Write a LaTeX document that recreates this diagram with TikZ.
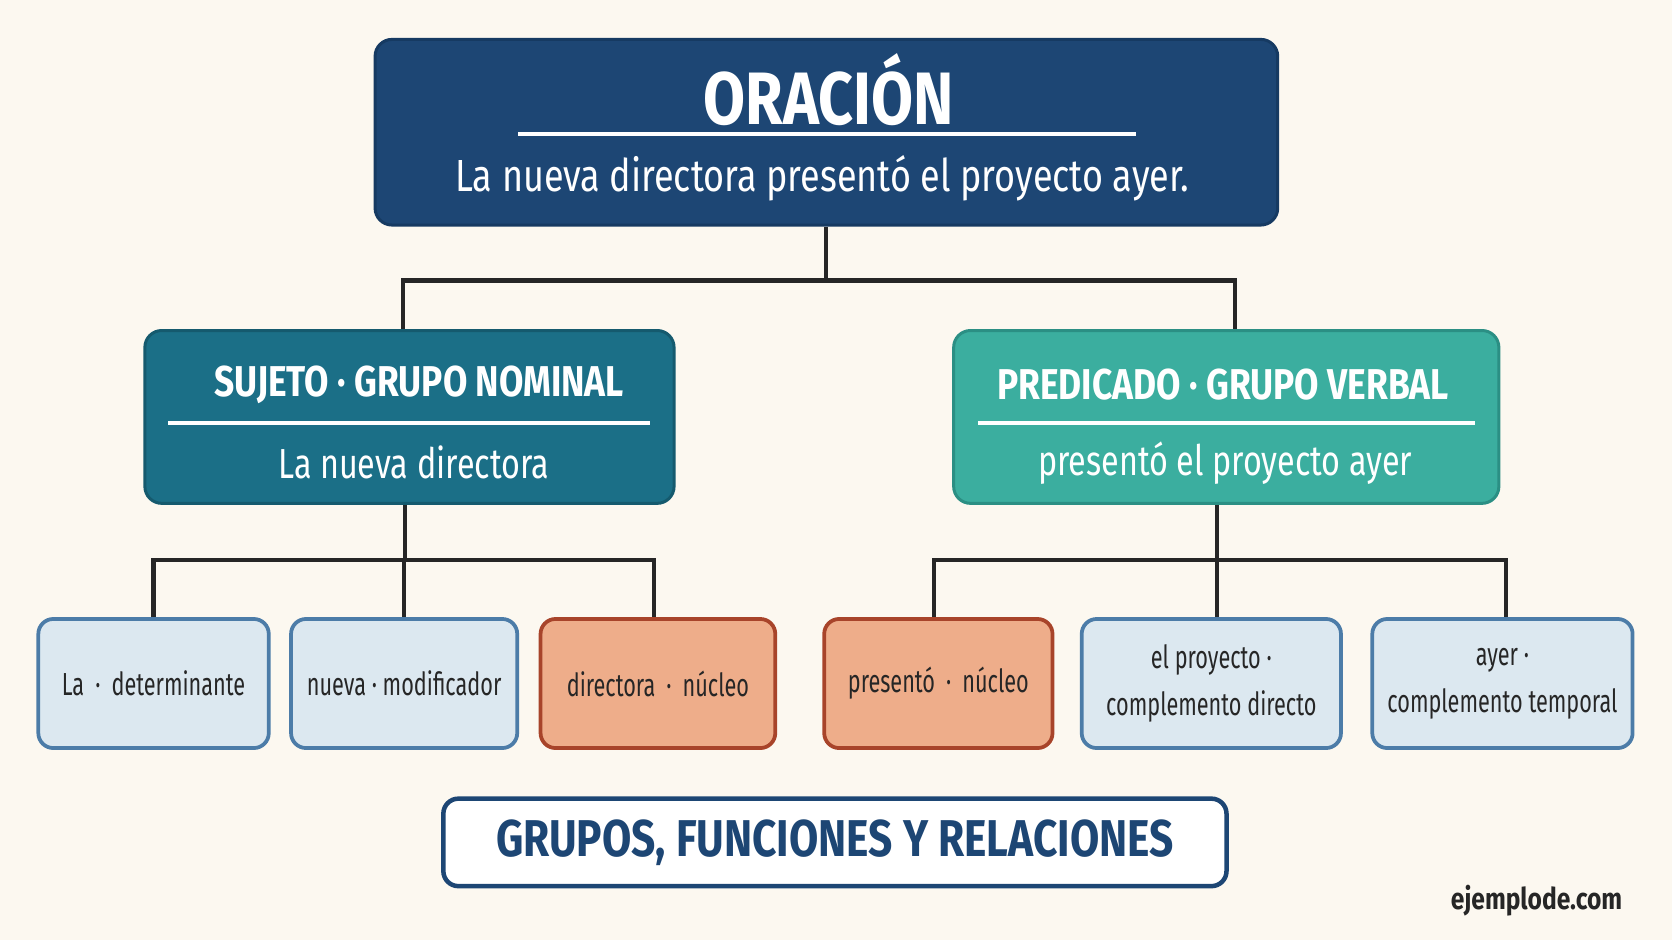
\documentclass[tikz,border=0pt]{standalone}
\usepackage{fontspec}
\setmainfont{Fira Sans}[FakeStretch=0.82]
\newfontfamily\narrowfont{Fira Sans}[FakeStretch=0.68]
\newfontfamily\subfont{Fira Sans}[FakeStretch=0.77]
\newfontfamily\sentfont{Fira Sans}[FakeStretch=0.80]
\usetikzlibrary{positioning}
\definecolor{bgcream}{HTML}{FCF8F0}
\definecolor{oracionblue}{HTML}{1D4674}
\definecolor{oracionline}{HTML}{163A62}
\definecolor{sujetoteal}{HTML}{1B6F87}
\definecolor{sujetoline}{HTML}{155A6E}
\definecolor{predteal}{HTML}{3BAE9F}
\definecolor{predline}{HTML}{2B8F84}
\definecolor{leaffill}{HTML}{DCE8F0}
\definecolor{leafline}{HTML}{4C7CA8}
\definecolor{nucfill}{HTML}{EEAD8A}
\definecolor{nucline}{HTML}{A8442A}
\definecolor{ink}{HTML}{262626}
\begin{document}
\begin{tikzpicture}[x=0.01cm,y=-0.01cm,
    link/.style={draw=ink, line width=1.1pt},
    bigbox/.style={rounded corners=4.5pt, line width=0.8pt},
    leafbox/.style={rounded corners=4pt, line width=1pt, draw=leafline, fill=leaffill, inner xsep=1pt,
        minimum height=1.21cm, align=center, text=ink, font=\narrowfont\fontsize{8.5}{12.5}\selectfont},
    nucbox/.style={leafbox, draw=nucline, fill=nucfill},
    headtext/.style={text=white, font=\bfseries\fontsize{11.5}{14}\selectfont},
    subtext/.style={text=white, font=\subfont\fontsize{11.2}{14}\selectfont},
    rule/.style={draw=white, line width=1pt}]
    \fill[bgcream] (0,0) rectangle (1568,882);
    \useasboundingbox (0,0) rectangle (1568,882);
    % oracion
    \node[bigbox, draw=oracionline, fill=oracionblue, minimum width=8.46cm, minimum height=1.74cm] (oracion) at (775,124) {};
    \node[text=white, font=\bfseries\fontsize{19.8}{22}\selectfont] (oraciontitle) at (777,84) {ORACIÓN};
    \draw[rule] (486,126) -- (1065,126);
    \node[text=white, font=\sentfont\fontsize{12}{14}\selectfont] (oraciontext) at (771,167) {La nueva directora presentó el proyecto ayer.};
    % sujeto y predicado
    \node[bigbox, draw=sujetoline, fill=sujetoteal, minimum width=4.96cm, minimum height=1.62cm] (sujeto) at (384,391) {};
    \node[headtext] (sujetotitle) at (393,361) {SUJETO · GRUPO NOMINAL};
    \draw[rule] (158,397) -- (610,397);
    \node[subtext] (sujetotext) at (388,434) {La nueva directora};
    \node[bigbox, draw=predline, fill=predteal, minimum width=5.11cm, minimum height=1.62cm] (predicado) at (1150,391) {};
    \node[headtext] (predtitle) at (1147,361) {PREDICADO · GRUPO VERBAL};
    \draw[rule] (917,397) -- (1383,397);
    \node[subtext] (predtext) at (1149,434) {presentó el proyecto ayer};
    % hojas
    \node[leafbox, minimum width=2.16cm] (det) at (144,641) {La \,·\, determinante};
    \node[leafbox, minimum width=2.12cm] (mod) at (379,641) {nueva · modificador};
    \node[nucbox, minimum width=2.20cm] (nucsuj) at (617,641) {directora \,·\, núcleo};
    \node[nucbox, minimum width=2.14cm] (nucpred) at (880,641) {presentó \,·\, núcleo};
    \node[leafbox, minimum width=2.43cm] (cd) at (1136,641) {el proyecto ·\\ complemento directo};
    \node[leafbox, minimum width=2.44cm] (ct) at (1409,641) {ayer ·\\ complemento temporal};
    % conectores
    \coordinate (busA) at (775,263);
    \coordinate (busB) at (380,525);
    \coordinate (busC) at (1141,525);
    \draw[link] (oracion.south) -- (busA);
    \draw[link] ([xshift=-0.06cm]sujeto.north) |- (busA) -| ([xshift=0.08cm]predicado.north);
    \draw[link] (sujeto.south -| busB) -- (busB);
    \draw[link] (det.north) |- (busB) -| ([xshift=-0.04cm]nucsuj.north);
    \draw[link] (mod.north) -- (mod.north |- busB);
    \draw[link] (predicado.south -| busC) -- (busC);
    \draw[link] ([xshift=-0.04cm]nucpred.north) |- (busC) -| ([xshift=0.03cm]ct.north);
    \draw[link] (cd.north -| busC) -- (busC);
    % pie
    \node[rounded corners=4pt, draw=oracionblue, line width=1.2pt, fill=white, minimum width=7.34cm, minimum height=0.82cm,
        text=oracionblue, font=\bfseries\fontsize{13.8}{16}\selectfont] (footer) at (783,790) {GRUPOS, FUNCIONES Y RELACIONES};
    \node[text=ink, font=\bfseries\fontsize{8}{10}\selectfont] (web) at (1441,845) {ejemplode.com};
\end{tikzpicture}
\end{document}
